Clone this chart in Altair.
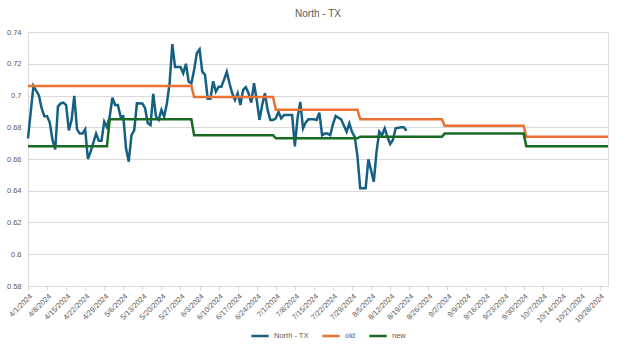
import altair as alt
import pandas as pd

# ---- data ----
start_date = "2024-04-01"
north_day = [0, 2, 4, 5, 6, 7, 8, 9, 10, 11, 12, 13, 14, 15, 16, 17, 18, 19, 20, 21,
             22, 23, 25, 26, 27, 28, 29, 30, 31, 32, 33, 34, 35, 36, 37, 38, 39, 40, 42, 43,
             44, 45, 46, 47, 48, 49, 50, 51, 52, 53, 54, 55, 56, 57, 58, 59, 60, 61, 62, 63,
             64, 65, 66, 67, 68, 69, 70, 71, 72, 73, 74, 75, 76, 77, 78, 79, 80, 81, 82, 83,
             84, 85, 86, 87, 88, 89, 90, 91, 92, 93, 94, 96, 97, 98, 99, 100, 101, 102, 103, 104,
             105, 106, 107, 108, 109, 110, 111, 112, 113, 114, 115, 117, 118, 119, 120, 121, 122, 124, 125, 127,
             128, 129, 130, 131, 132, 133, 134, 135, 137, 138, 139]
north_val = [0.673, 0.706, 0.700, 0.692, 0.687, 0.687, 0.683, 0.672, 0.666, 0.693, 0.695, 0.6955, 0.694, 0.678, 0.6845, 0.6997, 0.6787, 0.676, 0.676, 0.6787,
             0.660, 0.6646, 0.676, 0.6715, 0.6715, 0.6835, 0.680, 0.6867, 0.6986, 0.694, 0.694, 0.6867, 0.687, 0.6667, 0.6583, 0.675, 0.678, 0.6951, 0.695, 0.692,
             0.6825, 0.6814, 0.701, 0.6867, 0.6846, 0.6909, 0.6867, 0.695, 0.7077, 0.7324, 0.718, 0.718, 0.718, 0.714, 0.720, 0.7087, 0.7077, 0.716, 0.7266, 0.729,
             0.715, 0.713, 0.698, 0.698, 0.709, 0.7024, 0.7055, 0.7055, 0.710, 0.715, 0.7077, 0.7014, 0.6972, 0.7014, 0.694, 0.7035, 0.7052, 0.7014, 0.6955, 0.7077,
             0.6972, 0.6846, 0.694, 0.7014, 0.6909, 0.6846, 0.6846, 0.6856, 0.6898, 0.6856, 0.6877, 0.6877, 0.6877, 0.668, 0.686, 0.696, 0.6793, 0.683, 0.685, 0.685,
             0.685, 0.6846, 0.6892, 0.675, 0.676, 0.676, 0.675, 0.682, 0.6871, 0.686, 0.685, 0.6772, 0.6825, 0.677, 0.674, 0.6615, 0.6415, 0.6415, 0.6598, 0.6457,
             0.6646, 0.6772, 0.675, 0.6793, 0.674, 0.6694, 0.672, 0.6793, 0.680, 0.680, 0.6778]

month_start = ["2024-04-01", "2024-05-01", "2024-06-01", "2024-07-01", "2024-08-01", "2024-09-01", "2024-10-01"]
month_end = ["2024-04-30", "2024-05-31", "2024-06-30", "2024-07-31", "2024-08-31", "2024-09-30", "2024-10-31"]
old_val = [0.706, 0.706, 0.699, 0.691, 0.685, 0.681, 0.674]
new_val = [0.668, 0.685, 0.675, 0.673, 0.674, 0.676, 0.668]

series_names = ["North - TX", "old", "new"]
series_colors = ["#156082", "#E97132", "#196B24"]
y_ticks = [0.58, 0.60, 0.62, 0.64, 0.66, 0.68, 0.70, 0.72, 0.74]

# ---- build table ----
rows = []
t0 = pd.Timestamp(start_date)
for d, v in zip(north_day, north_val):
    rows.append({"date": (t0 + pd.Timedelta(days=d)).strftime("%Y-%m-%d"), "value": v, "series": "North - TX"})
for name, vals in (("old", old_val), ("new", new_val)):
    for s, e, v in zip(month_start, month_end, vals):
        rows.append({"date": s, "value": v, "series": name})
        rows.append({"date": e, "value": v, "series": name})
df = pd.DataFrame(rows)

tick_dates = pd.date_range("2024-04-01", "2024-10-28", freq="7D")
tick_values = [alt.DateTime(year=t.year, month=t.month, date=t.day, utc=True) for t in tick_dates]

FONT = "Liberation Sans"
GRAY = "#595959"
LINE = "#d9d9d9"

chart = alt.Chart(df).mark_line(strokeWidth=2.5).encode(
    x=alt.X("date:T", title=None,
            scale=alt.Scale(type="utc", domain=[alt.DateTime(year=2024, month=4, date=1, utc=True),
                                                alt.DateTime(year=2024, month=10, date=31, utc=True)]),
            axis=alt.Axis(values=tick_values, labelExpr="utcFormat(datum.value, '%-m/%-d/%Y')",
                          labelAngle=-45, grid=False, domainColor=LINE, tickColor=LINE, tickSize=4,
                          labelPadding=2, labelFontSize=7.5, labelColor=GRAY, labelFont=FONT,
                          labelOverlap=False)),
    y=alt.Y("value:Q", title=None,
            scale=alt.Scale(domain=[0.58, 0.74], nice=False, zero=False),
            axis=alt.Axis(values=y_ticks, format=".2~f", ticks=False, domain=False, gridColor=LINE,
                          labelPadding=7, labelFontSize=7.5, labelColor=GRAY, labelFont=FONT)),
    color=alt.Color("series:N", scale=alt.Scale(domain=series_names, range=series_colors),
                    legend=alt.Legend(title=None, orient="none", legendX=222, legendY=294,
                                      direction="horizontal", symbolType="stroke", symbolSize=300,
                                      symbolStrokeWidth=2.5, labelFontSize=7.5, labelColor=GRAY,
                                      labelFont=FONT, columnPadding=8)),
).properties(
    width=580, height=254,
    title=alt.TitleParams("North - TX", fontSize=10, font=FONT, color=GRAY, fontWeight="normal",
                          anchor="middle", offset=9),
    autosize=alt.AutoSizeParams(type="none"),
    padding={"left": 28, "top": 32, "right": 16, "bottom": 62},
).configure_view(stroke=None).configure(background="white")

chart.save("out.html", embed_options={"renderer": "svg", "actions": False})
